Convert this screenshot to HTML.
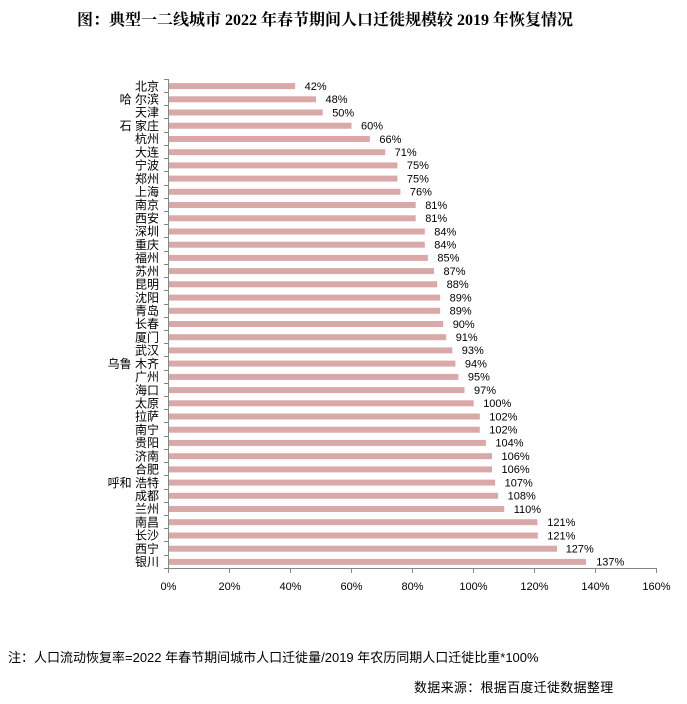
<!DOCTYPE html>
<html><head><meta charset="utf-8"><style>
html,body{margin:0;padding:0;background:#fff;}
svg{display:block;}
.t{font-family:"Liberation Serif","Noto Serif CJK SC",serif;font-weight:bold;font-size:16px;fill:#000;}
.c{font-family:"Liberation Sans","Noto Sans CJK SC",sans-serif;font-size:12px;fill:#000;}
.v{font-family:"Liberation Sans","Noto Sans CJK SC",sans-serif;font-size:11px;fill:#000;}
.n{font-family:"Liberation Sans","Noto Sans CJK SC",sans-serif;font-size:13px;fill:#000;}
</style></head><body>
<svg width="687" height="704" viewBox="0 0 687 704" xmlns="http://www.w3.org/2000/svg">
<text class="t" x="77" y="25">图：典型一二线城市 2022 年春节期间人口迁徙规模较 2019 年恢复情况</text>

<g fill="#d9a9aa">
<rect x="169" y="83.1" width="126.1" height="6"/>
<rect x="169" y="96.3" width="147" height="6"/>
<rect x="169" y="109.5" width="153.7" height="6"/>
<rect x="169" y="122.7" width="182.5" height="6"/>
<rect x="169" y="136.0" width="200.9" height="6"/>
<rect x="169" y="149.2" width="216.1" height="6"/>
<rect x="169" y="162.4" width="228.4" height="6"/>
<rect x="169" y="175.6" width="228.4" height="6"/>
<rect x="169" y="188.8" width="231.4" height="6"/>
<rect x="169" y="202.0" width="246.7" height="6"/>
<rect x="169" y="215.3" width="246.7" height="6"/>
<rect x="169" y="228.5" width="255.8" height="6"/>
<rect x="169" y="241.7" width="255.8" height="6"/>
<rect x="169" y="254.9" width="258.9" height="6"/>
<rect x="169" y="268.1" width="265" height="6"/>
<rect x="169" y="281.3" width="268.1" height="6"/>
<rect x="169" y="294.6" width="271.1" height="6"/>
<rect x="169" y="307.8" width="271.1" height="6"/>
<rect x="169" y="321.0" width="274.2" height="6"/>
<rect x="169" y="334.2" width="277.2" height="6"/>
<rect x="169" y="347.4" width="283.3" height="6"/>
<rect x="169" y="360.6" width="286.4" height="6"/>
<rect x="169" y="373.9" width="289.4" height="6"/>
<rect x="169" y="387.1" width="295.5" height="6"/>
<rect x="169" y="400.3" width="304.7" height="6"/>
<rect x="169" y="413.5" width="310.8" height="6"/>
<rect x="169" y="426.7" width="310.8" height="6"/>
<rect x="169" y="439.9" width="316.9" height="6"/>
<rect x="169" y="453.2" width="323" height="6"/>
<rect x="169" y="466.4" width="323" height="6"/>
<rect x="169" y="479.6" width="326.1" height="6"/>
<rect x="169" y="492.8" width="329.1" height="6"/>
<rect x="169" y="506.0" width="335.2" height="6"/>
<rect x="169" y="519.2" width="368.4" height="6"/>
<rect x="169" y="532.5" width="368.8" height="6"/>
<rect x="169" y="545.7" width="388" height="6"/>
<rect x="169" y="558.9" width="417" height="6"/>
</g>

<g stroke="#868686" stroke-width="1" fill="none">
<path d="M168.5 79 V568.5 H657"/>
<path d="M164 79.5H168.5M164 92.5H168.5M164 105.5H168.5M164 118.5H168.5M164 132.5H168.5M164 145.5H168.5M164 158.5H168.5M164 171.5H168.5M164 185.5H168.5M164 198.5H168.5M164 211.5H168.5M164 224.5H168.5M164 237.5H168.5M164 251.5H168.5M164 264.5H168.5M164 277.5H168.5M164 290.5H168.5M164 304.5H168.5M164 317.5H168.5M164 330.5H168.5M164 343.5H168.5M164 356.5H168.5M164 370.5H168.5M164 383.5H168.5M164 396.5H168.5M164 409.5H168.5M164 422.5H168.5M164 436.5H168.5M164 449.5H168.5M164 462.5H168.5M164 475.5H168.5M164 489.5H168.5M164 502.5H168.5M164 515.5H168.5M164 528.5H168.5M164 541.5H168.5M164 555.5H168.5M164 568.5H168.5"/>
<path d="M168.5 568.5V573M229.5 568.5V573M290.5 568.5V573M351.5 568.5V573M412.5 568.5V573M473.5 568.5V573M534.5 568.5V573M595.5 568.5V573M656.5 568.5V573"/>
</g>

<g class="c" text-anchor="end">
<text x="159" y="90.3">北京</text>
<text x="159" y="103.5">哈 尔滨</text>
<text x="159" y="116.7">天津</text>
<text x="159" y="129.9">石 家庄</text>
<text x="159" y="143.2">杭州</text>
<text x="159" y="156.4">大连</text>
<text x="159" y="169.6">宁波</text>
<text x="159" y="182.8">郑州</text>
<text x="159" y="196.0">上海</text>
<text x="159" y="209.2">南京</text>
<text x="159" y="222.5">西安</text>
<text x="159" y="235.7">深圳</text>
<text x="159" y="248.9">重庆</text>
<text x="159" y="262.1">福州</text>
<text x="159" y="275.3">苏州</text>
<text x="159" y="288.5">昆明</text>
<text x="159" y="301.8">沈阳</text>
<text x="159" y="315.0">青岛</text>
<text x="159" y="328.2">长春</text>
<text x="159" y="341.4">厦门</text>
<text x="159" y="354.6">武汉</text>
<text x="159" y="367.8">乌鲁 木齐</text>
<text x="159" y="381.1">广州</text>
<text x="159" y="394.3">海口</text>
<text x="159" y="407.5">太原</text>
<text x="159" y="420.7">拉萨</text>
<text x="159" y="433.9">南宁</text>
<text x="159" y="447.1">贵阳</text>
<text x="159" y="460.4">济南</text>
<text x="159" y="473.6">合肥</text>
<text x="159" y="486.8">呼和 浩特</text>
<text x="159" y="500.0">成都</text>
<text x="159" y="513.2">兰州</text>
<text x="159" y="526.4">南昌</text>
<text x="159" y="539.7">长沙</text>
<text x="159" y="552.9">西宁</text>
<text x="159" y="566.1">银川</text>
</g>

<g class="v">
<text x="304.6" y="89.9">42%</text>
<text x="325.5" y="103.1">48%</text>
<text x="332.2" y="116.3">50%</text>
<text x="361.0" y="129.5">60%</text>
<text x="379.4" y="142.8">66%</text>
<text x="394.6" y="156.0">71%</text>
<text x="406.9" y="169.2">75%</text>
<text x="406.9" y="182.4">75%</text>
<text x="409.9" y="195.6">76%</text>
<text x="425.2" y="208.8">81%</text>
<text x="425.2" y="222.1">81%</text>
<text x="434.3" y="235.3">84%</text>
<text x="434.3" y="248.5">84%</text>
<text x="437.4" y="261.7">85%</text>
<text x="443.5" y="274.9">87%</text>
<text x="446.6" y="288.1">88%</text>
<text x="449.6" y="301.4">89%</text>
<text x="449.6" y="314.6">89%</text>
<text x="452.7" y="327.8">90%</text>
<text x="455.7" y="341.0">91%</text>
<text x="461.8" y="354.2">93%</text>
<text x="464.9" y="367.4">94%</text>
<text x="467.9" y="380.7">95%</text>
<text x="474.0" y="393.9">97%</text>
<text x="483.2" y="407.1">100%</text>
<text x="489.3" y="420.3">102%</text>
<text x="489.3" y="433.5">102%</text>
<text x="495.4" y="446.7">104%</text>
<text x="501.5" y="460.0">106%</text>
<text x="501.5" y="473.2">106%</text>
<text x="504.6" y="486.4">107%</text>
<text x="507.6" y="499.6">108%</text>
<text x="513.7" y="512.8">110%</text>
<text x="547.3" y="526.0">121%</text>
<text x="547.3" y="539.3">121%</text>
<text x="565.7" y="552.5">127%</text>
<text x="596.2" y="565.7">137%</text>
</g>

<g class="v" text-anchor="middle">
<text x="168.5" y="590">0%</text>
<text x="229.5" y="590">20%</text>
<text x="290.5" y="590">40%</text>
<text x="351.5" y="590">60%</text>
<text x="412.5" y="590">80%</text>
<text x="473.5" y="590">100%</text>
<text x="534.5" y="590">120%</text>
<text x="595.5" y="590">140%</text>
<text x="656.5" y="590">160%</text>
</g>

<text class="n" x="8" y="662">注：人口流动恢复率=2022 年春节期间城市人口迁徙量/2019 年农历同期人口迁徙比重*100%</text>
<text class="n" x="414" y="692" letter-spacing="0.3">数据来源：根据百度迁徙数据整理</text>
</svg>
</body></html>
